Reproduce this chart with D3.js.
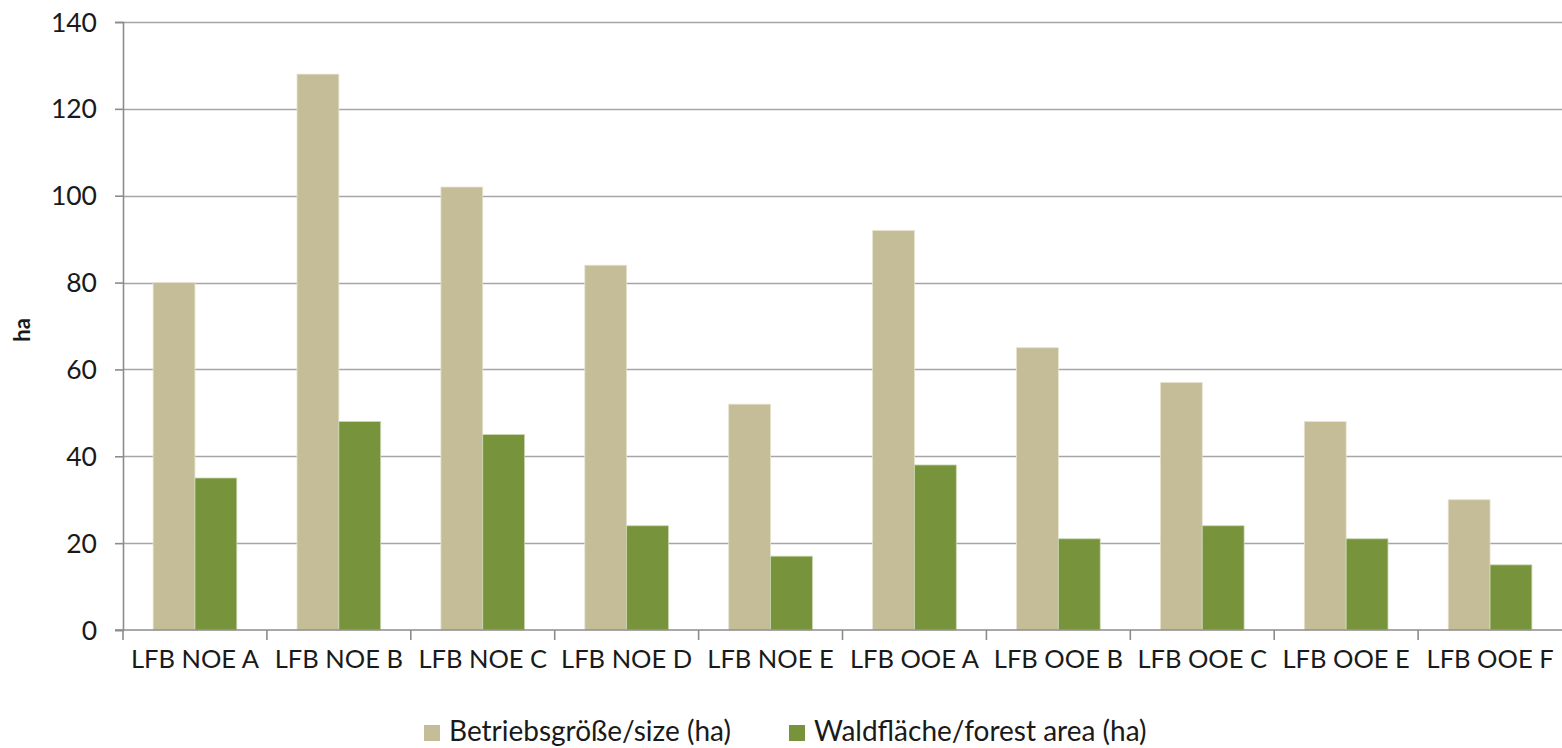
<!DOCTYPE html>
<html>
<head>
<meta charset="utf-8">
<script src="https://cdn.jsdelivr.net/npm/d3@7"></script>
<style>
  html, body { margin: 0; padding: 0; background: #fff; }
  svg { display: block; }
  text { font-family: Lato, "Open Sans", sans-serif; fill: #1a1a1a; }
</style>
</head>
<body>
<svg id="chart" width="1562" height="748"></svg>
<script>
// Farm categories along the x axis
const categories = ["LFB NOE A", "LFB NOE B", "LFB NOE C", "LFB NOE D", "LFB NOE E",
                    "LFB OOE A", "LFB OOE B", "LFB OOE C", "LFB OOE E", "LFB OOE F"];
// Series names (legend)
const seriesNames = ["Betriebsgröße/size (ha)", "Waldfläche/forest area (ha)"];
// Total farm size in ha
const sizeValues = [80, 128, 102, 84, 52, 92, 65, 57, 48, 30];
// Forest area in ha
const forestValues = [35, 48, 45, 24, 17, 38, 21, 24, 21, 15];
// Y axis ticks
const yTicks = [0, 20, 40, 60, 80, 100, 120, 140];
const seriesColors = ["#c4bd97", "#77933c"];

const svg = d3.select("#chart");
const margin = { left: 123, right: 0, top: 22, bottom: 118 };
const W = 1562, H = 748;
const plotBottom = H - margin.bottom;   // 630

const x0 = d3.scaleBand().domain(categories).range([margin.left, W - margin.right]).padding(0);
const x1 = d3.scaleBand().domain(seriesNames).range([0, x0.bandwidth()])
  .paddingInner(0).paddingOuter(0.72);
const y = d3.scaleLinear().domain([0, 140]).range([plotBottom, margin.top]);

// Horizontal gridlines
svg.append("g")
  .selectAll("line")
  .data(yTicks.filter(d => d > 0))
  .join("line")
  .attr("x1", margin.left).attr("x2", W)
  .attr("y1", d => Math.round(y(d)) + 0.5).attr("y2", d => Math.round(y(d)) + 0.5)
  .attr("stroke", "#a6a6a6").attr("stroke-width", 1.6);

// Bars
const rows = categories.map((c, i) => ({ cat: c, vals: [sizeValues[i], forestValues[i]] }));
svg.append("g")
  .selectAll("g")
  .data(rows)
  .join("g")
  .attr("transform", d => `translate(${x0(d.cat)},0)`)
  .selectAll("rect")
  .data(d => d.vals.map((v, k) => ({ name: seriesNames[k], v, k })))
  .join("rect")
  .attr("x", d => x1(d.name))
  .attr("width", x1.bandwidth())
  .attr("y", d => y(d.v))
  .attr("height", d => y(0) - y(d.v))
  .attr("fill", d => seriesColors[d.k])
  .attr("stroke", d => d.k === 0 ? "#e6e2cf" : "#c9d6ae")
  .attr("stroke-width", 0.8);

// Y axis
const yAxis = d3.axisLeft(y).tickValues(yTicks).tickSize(8).tickPadding(18).tickFormat(d3.format("d"));
const gy = svg.append("g").attr("transform", `translate(${margin.left},0)`).call(yAxis);
gy.select(".domain").attr("stroke", "#8c8c8c").attr("stroke-width", 1.6);
gy.selectAll(".tick line").attr("stroke", "#8c8c8c").attr("stroke-width", 1.6);
gy.selectAll(".tick text").style("font-size", "26.5px").attr("fill", "#1a1a1a").attr("dy", "0.34em");

// X axis: ticks at category boundaries
svg.append("line")
  .attr("x1", margin.left - 8).attr("x2", W)
  .attr("y1", plotBottom).attr("y2", plotBottom)
  .attr("stroke", "#8c8c8c").attr("stroke-width", 1.6);
const boundaries = categories.map(c => x0(c)).concat([x0(categories[categories.length - 1]) + x0.bandwidth()]);
svg.append("g")
  .selectAll("line")
  .data(boundaries.filter(b => b < W - 1))
  .join("line")
  .attr("x1", d => d).attr("x2", d => d)
  .attr("y1", plotBottom).attr("y2", plotBottom + 10)
  .attr("stroke", "#8c8c8c").attr("stroke-width", 1.6);

svg.append("g")
  .selectAll("text")
  .data(categories)
  .join("text")
  .attr("x", d => x0(d) + x0.bandwidth() / 2)
  .attr("y", plotBottom + 38)
  .attr("text-anchor", "middle")
  .style("font-size", "25.5px")
  .text(d => d);

// Y axis title
svg.append("text")
  .attr("transform", `translate(30,${(margin.top + plotBottom) / 2 + 4}) rotate(-90)`)
  .attr("text-anchor", "middle")
  .style("font-size", "22px")
  .style("font-weight", "bold")
  .text("ha");

// Legend
const legendItems = [{ name: seriesNames[0], x: 424 }, { name: seriesNames[1], x: 789 }];
const lg = svg.append("g").selectAll("g").data(legendItems).join("g")
  .attr("transform", d => `translate(${d.x},725)`);
lg.append("rect").attr("width", 16).attr("height", 16)
  .attr("fill", (d, i) => seriesColors[i]);
lg.append("text").attr("x", 25).attr("y", 16)
  .style("font-size", "28px")
  .text(d => d.name);
</script>
</body>
</html>
